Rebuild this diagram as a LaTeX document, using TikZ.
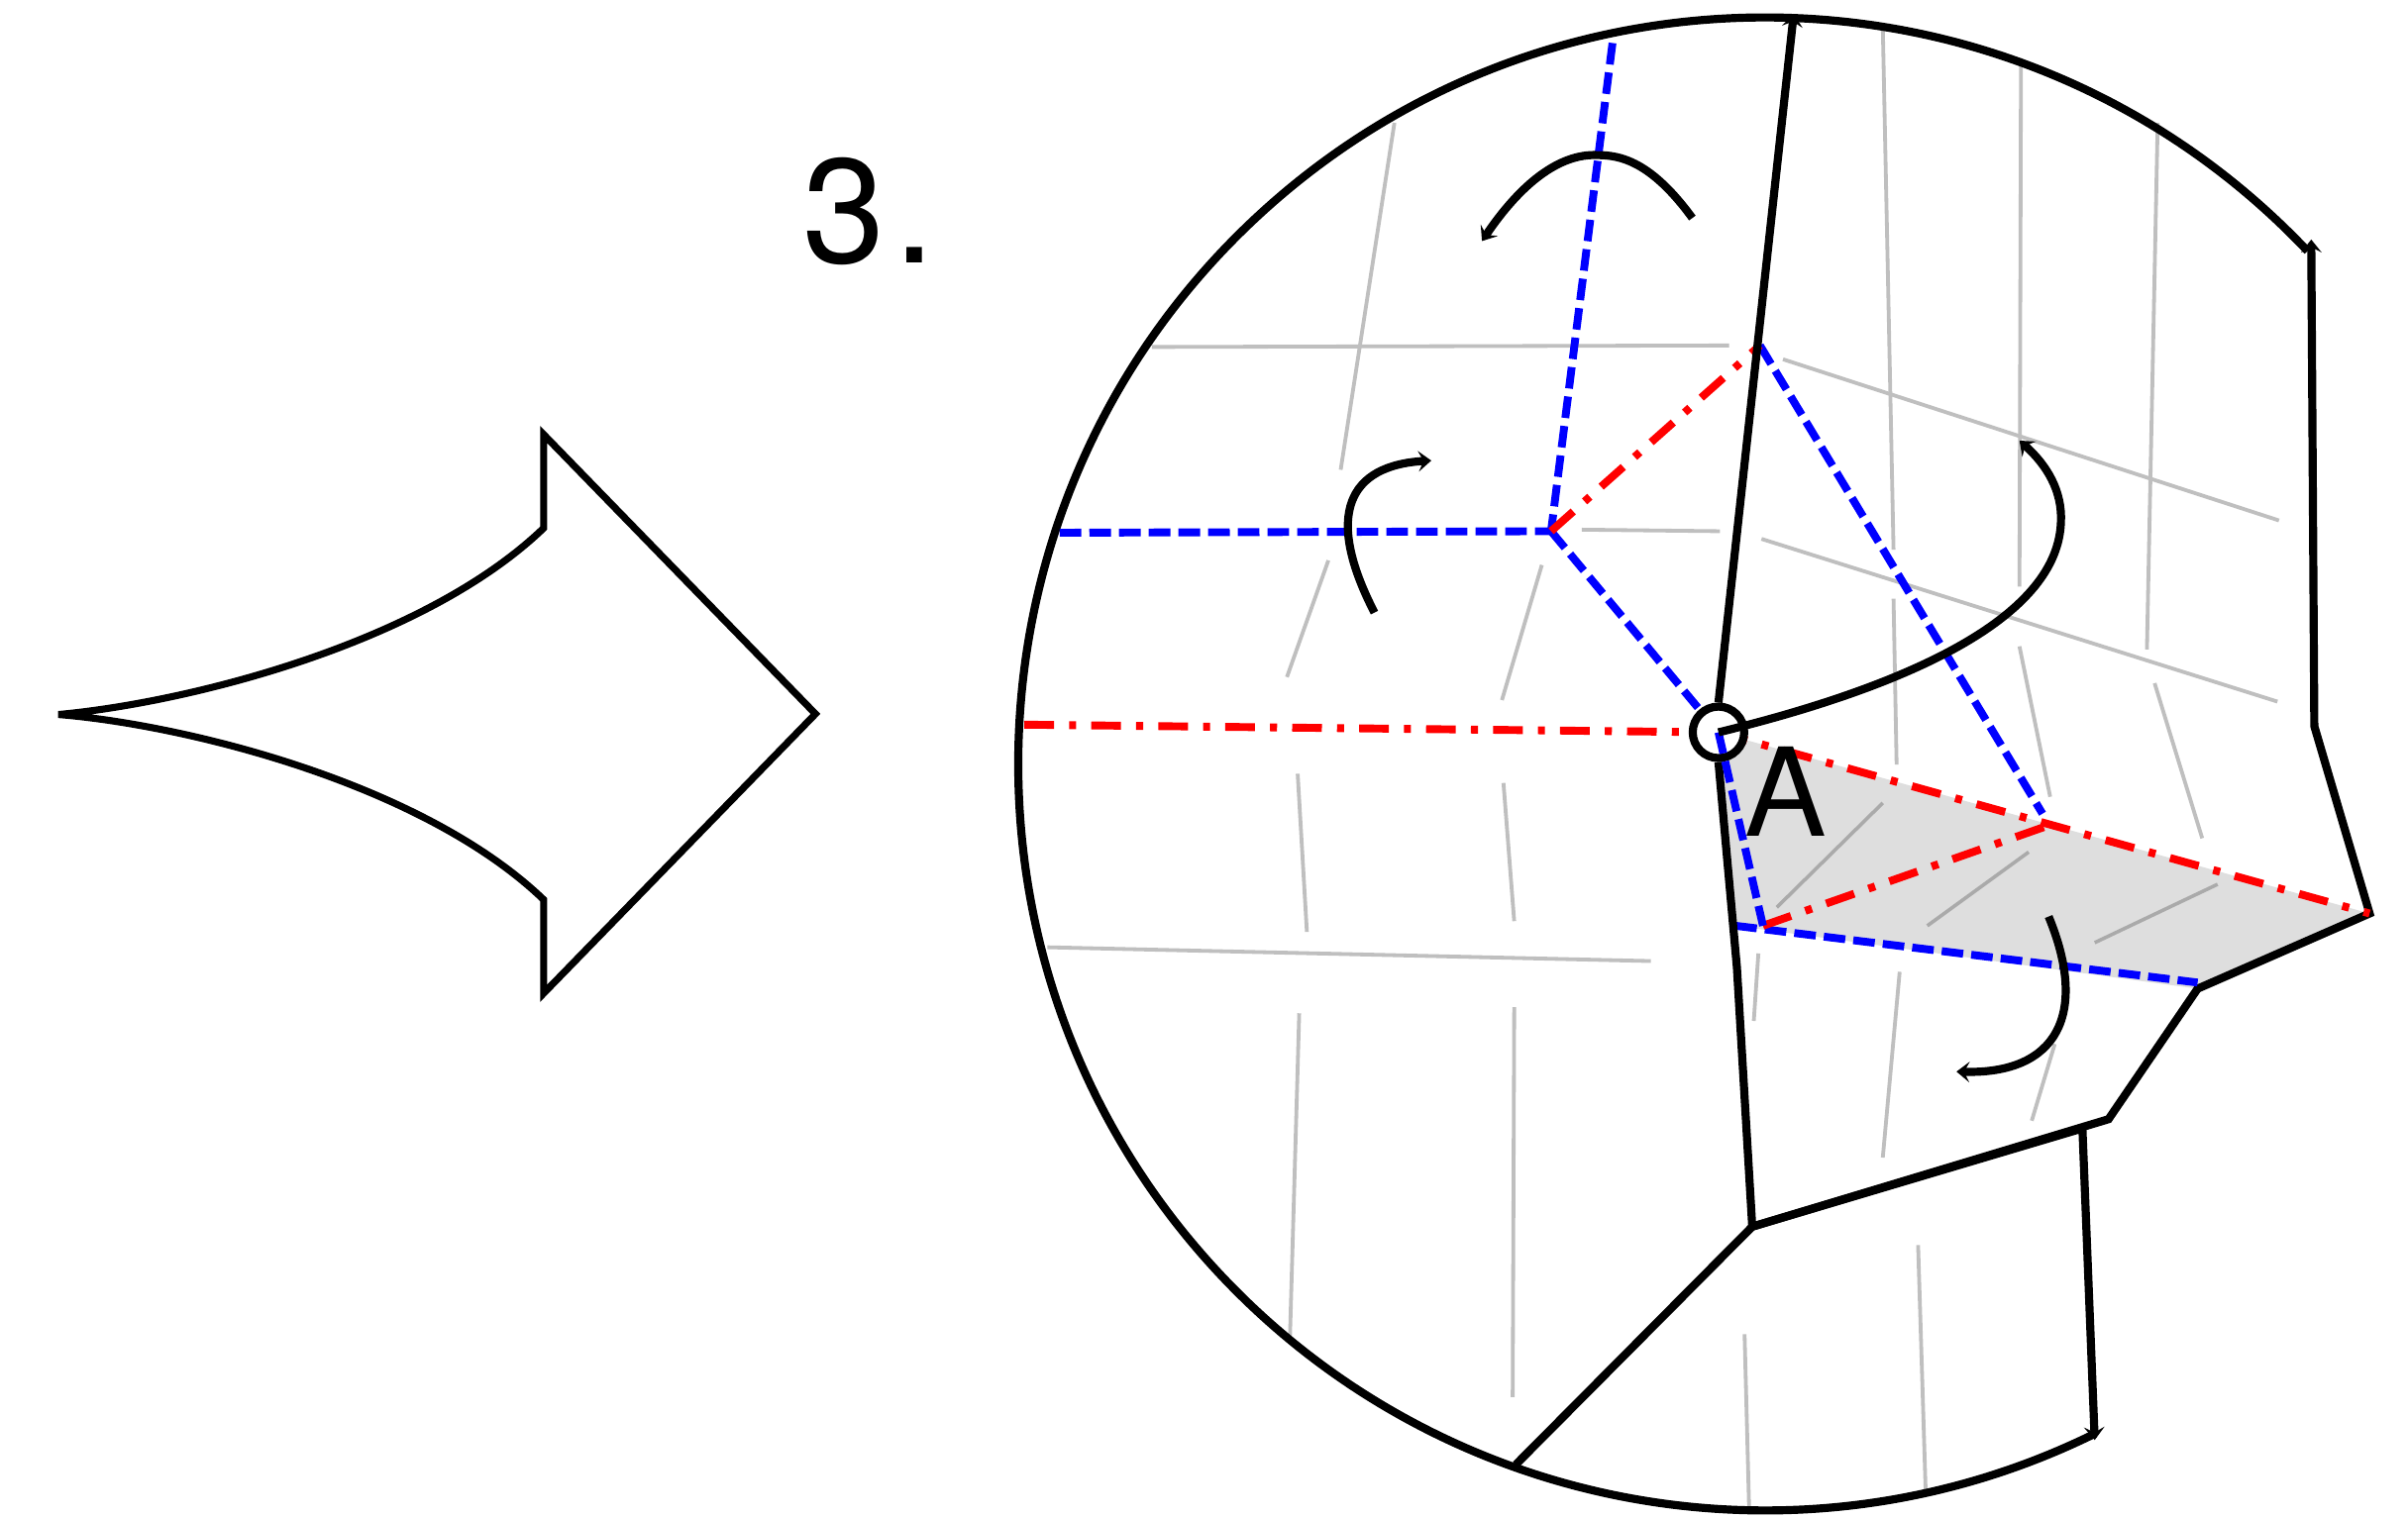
\documentclass[tikz,border=0pt]{standalone}
\usepackage{fontspec}
\setmainfont{TeX Gyre Heros}
\usetikzlibrary{arrows.meta}
\definecolor{foldblue}{RGB}{0,0,255}
\definecolor{foldred}{RGB}{255,0,0}
\definecolor{creasegray}{RGB}{191,191,191}
\definecolor{creasedark}{RGB}{170,170,170}
\definecolor{flapgray}{RGB}{222,222,222}
\tikzset{
  edge/.style={draw=black,line width=1.5pt,line join=miter},
  crease/.style={draw=creasegray,line width=0.7pt},
  creasein/.style={draw=creasedark,line width=0.65pt},
  valley/.style={draw=foldblue,line width=1.45pt,dash pattern=on 4pt off 1.5pt},
  mountain/.style={draw=foldred,line width=1.45pt,dash pattern=on 5.5pt off 2.8pt on 1.3pt off 2.8pt},
  tiphead/.style={-{Stealth[length=2.4pt,width=3.8pt,inset=1pt]}},
  tailhead/.style={{Stealth[length=2.4pt,width=3.8pt,inset=1pt]}-},
  turn/.style={edge,tiphead},
  bigarrow/.style={draw=black,line width=1.3pt,line join=miter},
  bigtext/.style={inner sep=0pt,font=\fontsize{27.5pt}{30pt}\selectfont},
  ptlabel/.style={inner sep=0pt,font=\fontsize{22.7pt}{25pt}\selectfont}
}
\begin{document}
\begin{tikzpicture}[x=0.01cm,y=-0.01cm]
\useasboundingbox (0,0) rectangle (1568,989.4);
% key vertices
\coordinate (A) at (1119,477);
\coordinate (P) at (1010,346);
\coordinate (Q) at (1146,225);
\coordinate (R) at (1148,603);
\coordinate (S) at (1333,538);
\coordinate (E1) at (1543,595);
\coordinate (E2) at (1431,644);
\coordinate (E2b) at (1431,640);
\coordinate (E3) at (1373,729);
\coordinate (E4) at (1141,799);
\coordinate (E5) at (987,954);
\coordinate (E6) at (1507,473);
\coordinate (E7) at (1505,156);
\coordinate (E8) at (1131,630);
\coordinate (E9) at (1130,603);
\coordinate (T) at (1168,9);
\coordinate (U) at (1356,735);
\coordinate (V) at (1364,938);
\coordinate (ArcS) at (1502.6,163.5);
% shaded flap
\fill[flapgray] (A) -- (E1) -- (E2) -- (E9) -- cycle;
% creases
\draw[crease] (908,80) -- (873,306);
\draw[crease] (750,226) -- (1126,225);
\draw[crease] (1226,17) -- (1233,358);
\draw[crease] (1316,38) -- (1315,382);
\draw[crease] (1405,80) -- (1398,423);
\draw[crease] (1161,234) -- (1484,339);
\draw[crease] (1147,351) -- (1483,457);
\draw[crease] (1030,345) -- (1120,346);
\draw[crease] (865,365) -- (838,441);
\draw[crease] (1004,368) -- (978,456);
\draw[crease] (1233,390) -- (1235,498);
\draw[crease] (1315,421) -- (1335,519);
\draw[crease] (1403,445) -- (1434,546);
\draw[crease] (845,504) -- (851,607);
\draw[crease] (979,510) -- (986,600);
\draw[crease] (682,617) -- (1075,626);
\draw[crease] (846,660) -- (840,870);
\draw[crease] (986,656) -- (985,910);
\draw[crease] (1145,621) -- (1142,665);
\draw[crease] (1237,633) -- (1226,754);
\draw[crease] (1338,680) -- (1323,730);
\draw[crease] (1249,811) -- (1254,974);
\draw[crease] (1136,869) -- (1139,984);
\draw[creasein] (1226,523) -- (1157,591);
\draw[creasein] (1321,555) -- (1255,603);
\draw[creasein] (1444,576) -- (1364,614);
% big arrow
\draw[bigarrow] (38,465.4) .. controls (120,458) and (275,420) .. (354,344) -- (354,283) -- (531,465) -- (354,647) -- (354,586) .. controls (275,510) and (120,472) .. (38,465.4) -- cycle;
\node[bigtext,anchor=base west] (num) at (522,171) {3\kern1.6pt.};
% paper outline
\draw[edge] (ArcS) arc[start angle=43.4,delta angle=252.85,radius=4.86cm];
\draw[edge,tailhead] (E7) -- (E6) -- (E1) -- (E2) -- (E3) -- (E4) -- (E5);
\draw[edge] (E4) -- (U);
\draw[edge,tiphead] (U) -- (V);
% folds under the pivot ring
\draw[valley] (1050,28) -- (P);
\draw[valley] (690,347) -- (P);
\draw[valley] (P) -- (A);
\draw[valley] (Q) -- (1330,530);
\draw[valley] (E9) -- (E2b);
\draw[mountain] (P) -- (Q);
\draw[mountain] (667,472) -- (A);
\draw[mountain] (A) -- (E1);
\draw[mountain] (R) -- (S);
% pivot circle
\node[draw,fill=white,circle,line width=1.5pt,minimum size=0.335cm,inner sep=0pt] (ring) at (A) {};
\draw[edge,tiphead] (ring.north) -- (T);
\draw[edge] (ring.south) -- (E8) -- (E4);
\draw[valley] (A) -- (R);
\node[ptlabel,anchor=base] (labelA) at (1162.5,544.4) {A};
% turn arrows
\draw[turn] (1102,142) .. controls (1075,105) and (1055,101) .. (1040,101) .. controls (1015,100) and (990,120) .. (965,157);
\draw[turn] (895,399) .. controls (862,335) and (878,303) .. (932,300);
\draw[turn] (A) .. controls (1250,445) and (1340,400) .. (1342,340) .. controls (1343,320) and (1333,303) .. (1315,287);
\draw[turn] (1334,597) .. controls (1360,660) and (1340,700) .. (1274,698);
\end{tikzpicture}
\end{document}
